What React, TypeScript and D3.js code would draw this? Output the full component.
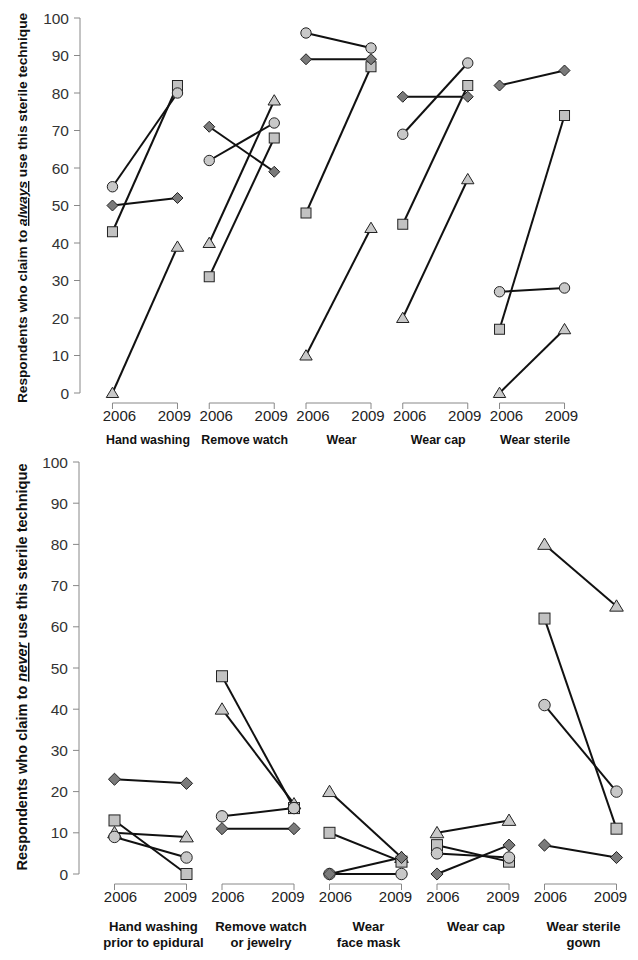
import React from "react";
import * as d3 from "d3";

const years = ["2006", "2009"];
const topGroups = ["Hand washing", "Remove watch", "Wear", "Wear cap", "Wear sterile"];
const bottomGroups = [
  ["Hand washing", "prior to epidural"],
  ["Remove watch", "or jewelry"],
  ["Wear", "face mask"],
  ["Wear cap"],
  ["Wear sterile", "gown"],
];
const yTicks = [0, 10, 20, 30, 40, 50, 60, 70, 80, 90, 100];

// [2006, 2009] per group
const topCircle = [[55, 80], [62, 72], [96, 92], [69, 88], [27, 28]];
const topDiamond = [[50, 52], [71, 59], [89, 89], [79, 79], [82, 86]];
const topSquare = [[43, 82], [31, 68], [48, 87], [45, 82], [17, 74]];
const topTriangle = [[0, 39], [40, 78], [10, 44], [20, 57], [0, 17]];

const botCircle = [[9, 4], [14, 16], [0, 0], [5, 4], [41, 20]];
const botDiamond = [[23, 22], [11, 11], [0, 4], [0, 7], [7, 4]];
const botSquare = [[13, 0], [48, 16], [10, 3], [7, 3], [62, 11]];
const botTriangle = [[10, 9], [40, 17], [20, 4], [10, 13], [80, 65]];

const FONT = "'Liberation Sans', Arial, sans-serif";

type Series = { shape: string; data: number[][]; fill: string };

function Marker({ shape, x, y, fill, s }: { shape: string; x: number; y: number; fill: string; s: number }) {
  const common = { fill, stroke: "#222", strokeWidth: 1 };
  if (shape === "circle") return <circle cx={x} cy={y} r={s * 0.52} {...common} />;
  if (shape === "square")
    return <rect x={x - s / 2} y={y - s / 2} width={s} height={s} {...common} />;
  if (shape === "diamond") {
    const h = s * 0.55;
    return <path d={`M${x},${y - h}L${x + h},${y}L${x},${y + h}L${x - h},${y}Z`} {...common} />;
  }
  const w = s * 0.62;
  return <path d={`M${x},${y - s * 0.58}L${x + w},${y + s * 0.45}L${x - w},${y + s * 0.45}Z`} {...common} />;
}

function Panel(props: {
  groups: string[][];
  series: Series[];
  y0: number;
  y1: number;
  axisX: number;
  range: [number, number];
  half: number;
  markerSize: number;
  titleParts: [string, string, string];
  titleSize: number;
  titleCenter: number;
  yearOff: [number, number];
  labelY: number;
  labelSize: number;
}) {
  const { groups, series, y0, y1, axisX, range, half, markerSize, titleParts, titleSize, titleCenter, yearOff, labelY, labelSize } = props;
  const y = d3.scaleLinear().domain([0, 100]).range([y0, y1]);
  const gScale = d3.scaleBand<number>().domain(groups.map((_, i) => i)).range(range).padding(0);
  const yr = d3.scalePoint<string>().domain(years).range([-half, half]);
  const gx = (i: number) => (gScale(i) as number) + gScale.bandwidth() / 2;
  const line = d3.line<[number, number]>().x((d) => d[0]).y((d) => d[1]);
  const bracketY = y0 + 10;
  return (
    <g>
      {/* y axis */}
      <line x1={axisX} x2={axisX} y1={y(0)} y2={y(100)} stroke="#888" strokeWidth={1} />
      {yTicks.map((t) => (
        <g key={t}>
          <line x1={axisX - 6} x2={axisX} y1={y(t)} y2={y(t)} stroke="#888" strokeWidth={1} />
          <text x={axisX - 11} y={y(t)} dy="0.36em" textAnchor="end" fontSize={15.5} fill="#333" fontFamily={FONT}>
            {t}
          </text>
        </g>
      ))}
      <text
        transform={`translate(27,${titleCenter}) rotate(-90)`}
        textAnchor="middle"
        fontSize={titleSize}
        fontWeight="bold"
        fill="#111"
        fontFamily={FONT}
      >
        <tspan>{titleParts[0]}</tspan>
        <tspan fontStyle="italic" textDecoration="underline">{titleParts[1]}</tspan>
        <tspan>{titleParts[2]}</tspan>
      </text>
      {/* brackets & labels */}
      {groups.map((lbl, i) => {
        const xa = gx(i) + (yr("2006") as number);
        const xb = gx(i) + (yr("2009") as number);
        return (
          <g key={i}>
            <path
              d={`M${xa},${bracketY + 6}V${bracketY}H${xb}V${bracketY + 6}`}
              fill="none"
              stroke="#888"
              strokeWidth={1}
            />
            <text x={xa + yearOff[0]} y={bracketY + 18} textAnchor="middle" fontSize={15} fill="#222" fontFamily={FONT}>
              2006
            </text>
            <text x={xb + yearOff[1]} y={bracketY + 18} textAnchor="middle" fontSize={15} fill="#222" fontFamily={FONT}>
              2009
            </text>
            {lbl.map((l, k) => (
              <text
                key={k}
                x={gx(i) + 3}
                y={labelY + k * 16}
                textAnchor="middle"
                fontSize={labelSize}
                fontWeight="bold"
                fill="#111"
                fontFamily={FONT}
              >
                {l}
              </text>
            ))}
          </g>
        );
      })}
      {/* lines */}
      {series.map((s, si) =>
        s.data.map((d, i) => {
          const pts: [number, number][] = years.map((yy, k) => [gx(i) + (yr(yy) as number), y(d[k])]);
          return <path key={`l${si}-${i}`} d={line(pts) as string} fill="none" stroke="#111" strokeWidth={2} />;
        })
      )}
      {/* markers */}
      {series.map((s, si) =>
        s.data.map((d, i) =>
          years.map((yy, k) => (
            <Marker
              key={`m${si}-${i}-${k}`}
              shape={s.shape}
              x={gx(i) + (yr(yy) as number)}
              y={y(d[k])}
              fill={s.fill}
              s={markerSize}
            />
          ))
        )
      )}
    </g>
  );
}

export default function App() {
  const topSeries: Series[] = [
    { shape: "triangle", data: topTriangle, fill: "#c8c8c8" },
    { shape: "square", data: topSquare, fill: "#c2c2c2" },
    { shape: "circle", data: topCircle, fill: "#c8c8c8" },
    { shape: "diamond", data: topDiamond, fill: "#7a7a7a" },
  ];
  const botSeries: Series[] = [
    { shape: "triangle", data: botTriangle, fill: "#c8c8c8" },
    { shape: "square", data: botSquare, fill: "#c2c2c2" },
    { shape: "circle", data: botCircle, fill: "#c8c8c8" },
    { shape: "diamond", data: botDiamond, fill: "#7a7a7a" },
  ];
  return (
    <svg
      width={638}
      height={960}
      style={{ position: "absolute", left: 0, top: 0, background: "#fff" }}
    >
      <rect width={638} height={960} fill="#fff" />
      <Panel
        groups={topGroups.map((g) => [g])}
        series={topSeries}
        y0={393}
        y1={18}
        axisX={80}
        range={[96.6, 580.4]}
        half={32.5}
        markerSize={10}
        titleParts={["Respondents who claim to ", "always", " use this sterile technique"]}
        titleSize={13.7}
        titleCenter={208}
        yearOff={[7, -3]}
        labelY={444}
        labelSize={12.4}
      />
      <Panel
        groups={bottomGroups}
        series={botSeries}
        y0={874}
        y1={462}
        axisX={79}
        range={[96.75, 634.25]}
        half={36}
        markerSize={11}
        titleParts={["Respondents who claim to ", "never", " use this sterile technique"]}
        titleSize={14.6}
        titleCenter={667}
        yearOff={[6, -6]}
        labelY={931}
        labelSize={13.1}
      />
    </svg>
  );
}
